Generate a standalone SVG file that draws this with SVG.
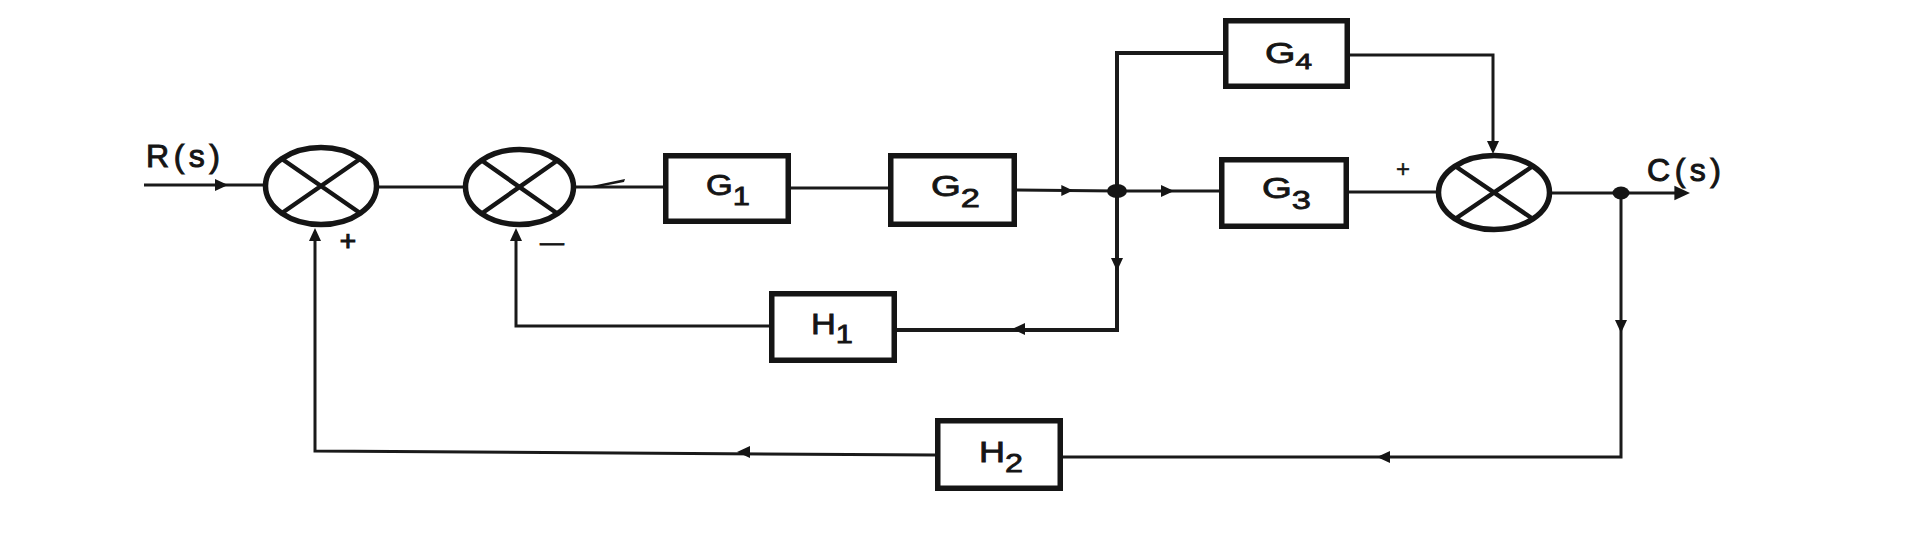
<svg xmlns="http://www.w3.org/2000/svg" xmlns:xlink="http://www.w3.org/1999/xlink" width="1920" height="553" viewBox="0 0 1920 553">
<style>
.bg{fill:#ffffff}
.box{fill:#ffffff;stroke:#151515;stroke-width:5.5}
.sum{fill:#ffffff;stroke:#151515;stroke-width:5.5}
.cross{stroke:#151515;stroke-width:4.5;fill:none}
.wire{fill:none;stroke:#1a1a1a;stroke-width:3;stroke-linejoin:miter}
.wire4{fill:none;stroke:#1a1a1a;stroke-width:4}
.dot{fill:#151515}
.ah{fill:#151515}
.lbl{font-family:"Liberation Sans",Arial,sans-serif;font-size:29px;fill:#151515;stroke:#151515;stroke-width:0.8}
.sub{font-size:26px}
.sig{font-family:"Liberation Sans",Arial,sans-serif;font-size:32px;fill:#151515;stroke:#151515;stroke-width:1}
.sign{font-family:"Liberation Sans",Arial,sans-serif;fill:#151515;stroke:#151515}
</style>
<defs>
<path id="ah" d="M0,0 L-13,-6 L-13,6 Z"/>
</defs>
<rect class="bg" x="0" y="0" width="1920" height="553"/>

<g id="connectors">
<path class="wire" d="M144,185 H263"/>
<path class="wire" d="M379,187 H463"/>
<path class="wire" d="M576,187 H663"/>
<path class="wire" d="M791,188 H888"/>
<path class="wire" d="M1017,190 L1117,191"/>
<path class="wire" d="M1117,191 H1219"/>
<path class="wire" d="M1349,192 H1436"/>
<path class="wire" d="M1552,193 H1676"/>
<path class="wire4" d="M1117,191 V53 H1223"/>
<path class="wire" d="M1350,55 H1493 V145"/>
<path class="wire4" d="M1117,191 V330 H897"/>
<path class="wire" d="M769,326 H516 V232"/>
<path class="wire" d="M1621,193 V457 H1063"/>
<path class="wire" d="M935,455 L315,451 V232"/>
<path class="ah" d="M587,187 L625,179 L624,182 L598,187 Z"/>
<use href="#ah" class="ah" transform="translate(228,185)"/>
<use href="#ah" class="ah" transform="translate(1073,190.5) scale(0.9)"/>
<use href="#ah" class="ah" transform="translate(1174,191)"/>
<use href="#ah" class="ah" transform="translate(1690,193) scale(1.2)"/>
<use href="#ah" class="ah" transform="translate(1493,154) rotate(90)"/>
<use href="#ah" class="ah" transform="translate(1117,271) rotate(90)"/>
<use href="#ah" class="ah" transform="translate(1012,329) rotate(180)"/>
<use href="#ah" class="ah" transform="translate(516,228) rotate(-90)"/>
<use href="#ah" class="ah" transform="translate(1621,333) rotate(90)"/>
<use href="#ah" class="ah" transform="translate(1377,457) rotate(180)"/>
<use href="#ah" class="ah" transform="translate(737,452) rotate(180)"/>
<use href="#ah" class="ah" transform="translate(315,228) rotate(-90)"/>
<ellipse class="dot" cx="1117" cy="191" rx="10" ry="7"/>
<ellipse class="dot" cx="1621" cy="193" rx="8.5" ry="6.5"/>
</g>

<g id="input-label">
<text class="sig" x="146" y="167" textLength="74">R(s)</text>
</g>
<g id="output-label">
<text class="sig" x="1647" y="181" textLength="74">C(s)</text>
</g>

<g id="sum1">
<ellipse class="sum" cx="321" cy="186" rx="55.5" ry="38.5"/>
<path class="cross" d="M282,159 L360,213 M360,159 L282,213"/>
<text class="sign" x="348" y="250" text-anchor="middle" style="font-size:28px;stroke-width:1.2">+</text>
</g>

<g id="sum2">
<ellipse class="sum" cx="519.5" cy="187" rx="54" ry="37.5"/>
<path class="cross" d="M481,160 L558,214 M558,160 L481,214"/>
<text class="sign" x="540" y="250" style="font-size:24px;stroke-width:0.8">—</text>
</g>

<g id="sum3">
<ellipse class="sum" cx="1494" cy="192.5" rx="55.5" ry="37"/>
<path class="cross" d="M1455,166 L1533,219 M1533,166 L1455,219"/>
<text class="sign" x="1403" y="177" text-anchor="middle" style="font-size:24px;stroke-width:0.4">+</text>
</g>

<g id="G1">
<rect class="box" x="665.75" y="155.75" width="122.5" height="65.5"/>
<text class="lbl" x="706" y="195" textLength="44" lengthAdjust="spacingAndGlyphs">G<tspan class="sub" dy="10">1</tspan></text>
</g>

<g id="G2">
<rect class="box" x="890.75" y="155.75" width="123.5" height="68.5"/>
<text class="lbl" x="931" y="196" textLength="49" lengthAdjust="spacingAndGlyphs">G<tspan class="sub" dy="11">2</tspan></text>
</g>

<g id="G3">
<rect class="box" x="1221.75" y="159.75" width="124.5" height="66.5"/>
<text class="lbl" x="1262" y="198" textLength="49" lengthAdjust="spacingAndGlyphs">G<tspan class="sub" dy="11">3</tspan></text>
</g>

<g id="G4">
<rect class="box" x="1225.75" y="20.75" width="121.5" height="65.5"/>
<text class="lbl" x="1265" y="63" textLength="47" lengthAdjust="spacingAndGlyphs">G<tspan style="font-size:22px" dy="6">4</tspan></text>
</g>

<g id="H1">
<rect class="box" x="771.75" y="293.75" width="122.5" height="66.5"/>
<text class="lbl" x="811" y="334" textLength="42" lengthAdjust="spacingAndGlyphs">H<tspan class="sub" dy="9">1</tspan></text>
</g>

<g id="H2">
<rect class="box" x="937.75" y="420.75" width="122.5" height="67.5"/>
<text class="lbl" x="979" y="462" textLength="44" lengthAdjust="spacingAndGlyphs">H<tspan class="sub" dy="10">2</tspan></text>
</g>
</svg>
